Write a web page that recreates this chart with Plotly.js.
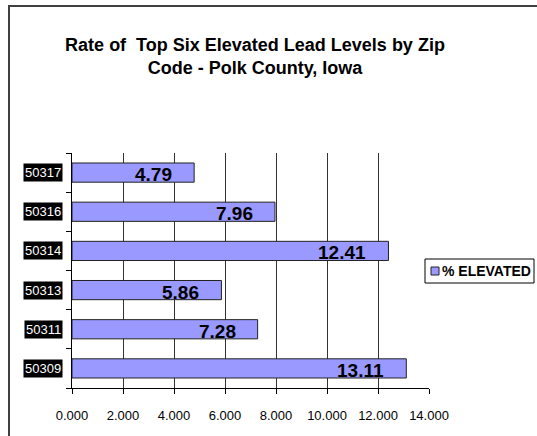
<!DOCTYPE html>
<html>
<head>
<meta charset="utf-8">
<script src="https://cdn.plot.ly/plotly-3.0.1.min.js"></script>
<style>html,body{margin:0;padding:0;background:#fff;}#chart{width:537px;height:436px;}</style>
</head>
<body>
<div id="chart"></div>
<script>
// Data (bottom to top as drawn)
var zipCodes = ["50309", "50311", "50313", "50314", "50316", "50317"];
var pctElevated = [13.11, 7.28, 5.86, 12.41, 7.96, 4.79];
var seriesName = "% ELEVATED";
var xTickVals = [0, 2, 4, 6, 8, 10, 12, 14];
var titleText = "Rate of  Top Six Elevated Lead Levels by Zip<br>Code - Polk County, Iowa";

var FONT = "Arial, 'Liberation Sans', sans-serif";
var BAR_COLOR = "#9999FF";
var L = 72, R = 429, T = 153, B = 388, W = 537, H = 436;
function px2x(p){ return (p - L) / (R - L); }
function px2y(p){ return (B - p) / (B - T); }

var trace = {
  type: "bar",
  orientation: "h",
  y: zipCodes,
  x: pctElevated,
  name: seriesName,
  width: 0.49,
  marker: {color: BAR_COLOR, line: {color: "#222222", width: 1}},
  hoverinfo: "x+y",
  showlegend: false
};

var annotations = [];
// value labels
for (var i = 0; i < zipCodes.length; i++) {
  annotations.push({
    x: pctElevated[i], y: i, xref: "x", yref: "y",
    text: pctElevated[i].toFixed(2),
    showarrow: false, xanchor: "right", yanchor: "middle",
    xshift: -20, yshift: -2,
    font: {family: FONT, size: 19, color: "#000", weight: "bold"}
  });
}
// category labels (white on black boxes)
for (var j = 0; j < zipCodes.length; j++) {
  annotations.push({
    x: px2x(63), y: j, xref: "paper", yref: "y",
    text: zipCodes[j], showarrow: false, xanchor: "right", yanchor: "middle",
    bgcolor: "#000", borderpad: 1,
    font: {family: FONT, size: 13, color: "#fff"}
  });
}
// legend text
annotations.push({
  x: px2x(440), y: px2y(271), xref: "paper", yref: "paper",
  text: seriesName, showarrow: false, xanchor: "left", yanchor: "middle",
  font: {family: FONT, size: 14, color: "#000", weight: "bold"}
});

var layout = {
  width: W, height: H,
  margin: {l: L, r: W - R, t: T, b: H - B, pad: 0, autoexpand: false},
  paper_bgcolor: "#fff", plot_bgcolor: "#fff",
  font: {family: FONT, size: 12, color: "#000"},
  title: {
    text: titleText,
    x: 255 / W, xref: "container", xanchor: "center",
    y: 1 - 51 / H, yref: "container", yanchor: "top",
    font: {family: FONT, size: 18, color: "#000", weight: "bold"}
  },
  xaxis: {
    range: [0, 14], tickvals: xTickVals, tickformat: ".3f",
    showgrid: true, gridcolor: "#333", gridwidth: 1,
    zeroline: false, showline: true, linecolor: "#000", linewidth: 1,
    ticks: "outside", ticklen: 5, tickcolor: "#000",
    ticklabelstandoff: 10,
    tickfont: {family: FONT, size: 13, color: "#000"},
    fixedrange: true
  },
  yaxis: {
    type: "category", categoryorder: "array", categoryarray: zipCodes,
    range: [-0.5, zipCodes.length - 0.5],
    showticklabels: false, showgrid: false, zeroline: false,
    showline: true, linecolor: "#000", linewidth: 1,
    ticks: "outside", tickson: "boundaries", ticklen: 5, tickcolor: "#000",
    fixedrange: true
  },
  showlegend: false,
  shapes: [
    {type: "rect", xref: "paper", yref: "paper",
     x0: px2x(9), x1: px2x(545), y0: px2y(6), y1: px2y(445),
     line: {color: "#404040", width: 2}, fillcolor: "rgba(0,0,0,0)", layer: "above"},
    // legend box
    {type: "rect", xref: "paper", yref: "paper",
     x0: px2x(425), x1: px2x(534), y0: px2y(259), y1: px2y(283),
     line: {color: "#000", width: 1}, fillcolor: "#fff", layer: "above"},
    // legend swatch
    {type: "rect", xref: "paper", yref: "paper",
     x0: px2x(431), x1: px2x(439), y0: px2y(267), y1: px2y(275),
     line: {color: "#222", width: 1}, fillcolor: BAR_COLOR, layer: "above"}
  ],
  annotations: annotations,
  bargap: 0.5
};

Plotly.newPlot("chart", [trace], layout, {displayModeBar: false, staticPlot: true});
</script>
</body>
</html>
